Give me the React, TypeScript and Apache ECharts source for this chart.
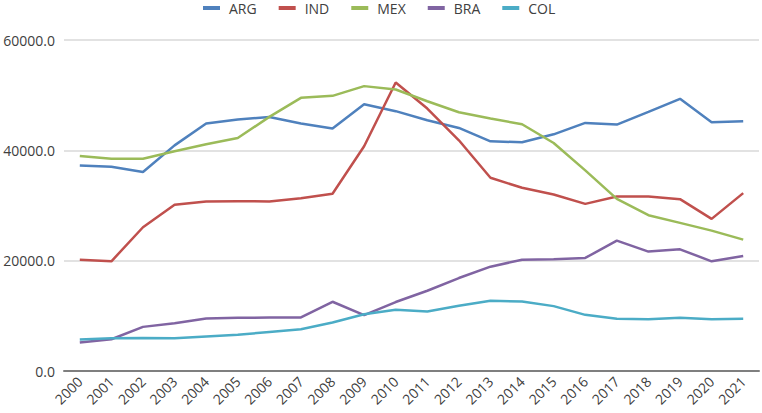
import React, { useEffect, useRef } from "react";
import * as echarts from "echarts";

const years = ["2000","2001","2002","2003","2004","2005","2006","2007","2008","2009","2010","2011","2012","2013","2014","2015","2016","2017","2018","2019","2020","2021"];
const arg = [37270,37030,36060,40900,44850,45580,46060,44850,43940,48360,47100,45450,44060,41640,41450,42900,44970,44670,46970,49330,45090,45270];
const ind = [20180,19880,26060,30120,30730,30790,30730,31330,32120,40730,52300,47580,41820,35030,33210,32000,30300,31640,31640,31150,27580,32240];
const mex = [38970,38480,38480,39820,41090,42240,46060,49510,49880,51640,51030,48900,46900,45760,44730,41330,36360,31210,28240,26850,25450,23820];
const bra = [5155,5760,8000,8670,9520,9640,9700,9700,12550,10120,12500,14550,16850,18910,20180,20240,20490,23640,21640,22060,19880,20850];
const col = [5700,5940,6000,5940,6250,6550,7090,7580,8790,10300,11090,10790,11820,12730,12610,11760,10180,9460,9390,9640,9390,9460];

const seriesNames = ["ARG","IND","MEX","BRA","COL"];
const seriesData = [arg, ind, mex, bra, col];
const colors = ["#4F81BD","#C0504D","#9BBB59","#8064A2","#4BACC6"];

export default function App() {
  const ref = useRef<HTMLDivElement>(null);
  useEffect(() => {
    if (!ref.current) return;
    const chart = echarts.init(ref.current, null, { renderer: "svg" });
    const font = "'Open Sans', 'Noto Sans', sans-serif";
    chart.setOption({
      animation: false,
      color: colors,
      textStyle: { fontFamily: font },
      legend: {
        top: 1,
        left: 203,
        padding: 0,
        icon: "rect",
        itemWidth: 17,
        itemHeight: 4,
        itemGap: 22,
        textStyle: { fontSize: 14, color: "#404040", fontFamily: font, padding: [0, 0, 0, 4] },
        data: seriesNames,
      },
      grid: { left: 64, right: 3, top: 40, bottom: 42, containLabel: false },
      xAxis: {
        type: "category",
        data: years,
        boundaryGap: true,
        axisLine: { lineStyle: { color: "#7F7F7F", width: 2 } },
        axisTick: { show: false },
        axisLabel: { rotate: 45, fontSize: 14, color: "#404040", margin: 8, interval: 0, fontFamily: font },
      },
      yAxis: {
        type: "value",
        min: 0,
        max: 60000,
        interval: 20000,
        axisLine: { show: false },
        axisTick: { show: false },
        splitLine: { lineStyle: { color: "#D9D9D9", width: 1.5 } },
        axisLabel: {
          fontSize: 14,
          color: "#404040",
          margin: 9,
          fontFamily: font,
          formatter: (v: number) => v.toFixed(1),
        },
      },
      series: seriesNames.map((n, i) => ({
        name: n,
        type: "line",
        data: seriesData[i],
        symbol: "none",
        lineStyle: { width: 2.5, color: colors[i] },
        itemStyle: { color: colors[i] },
      })),
    });
    return () => chart.dispose();
  }, []);
  return <div ref={ref} style={{ position: "absolute", left: 0, top: 0, width: 762, height: 413 }} />;
}
